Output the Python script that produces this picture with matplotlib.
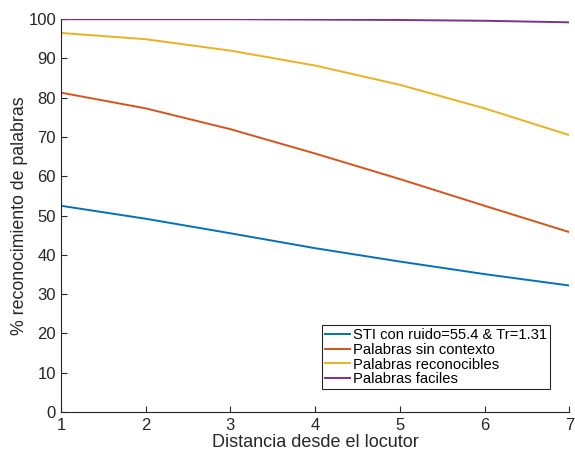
import matplotlib
matplotlib.use("Agg")
import matplotlib.pyplot as plt

plt.rcParams['font.family'] = ['Liberation Sans', 'DejaVu Sans']

distancia = [1, 2, 3, 4, 5, 6, 7]
sti = [52.5, 49.2, 45.5, 41.7, 38.3, 35.1, 32.2]
sin_contexto = [81.3, 77.3, 72.0, 65.8, 59.3, 52.5, 45.8]
reconocibles = [96.5, 94.9, 92.0, 88.2, 83.3, 77.3, 70.5]
faciles = [100.0, 100.0, 100.0, 99.9, 99.8, 99.6, 99.2]
labels = ['STI con ruido=55.4 & Tr=1.31', 'Palabras sin contexto',
          'Palabras reconocibles', 'Palabras faciles']
colors = ['#0072BD', '#D95319', '#EDB120', '#7E2F8E']

fig = plt.figure(figsize=(5.75, 4.57), dpi=100)
ax = fig.add_axes([0.106, 0.0985, 0.884, 0.8595])
for ys, lab, c in zip([sti, sin_contexto, reconocibles, faciles], labels, colors):
    ax.plot(distancia, ys, color=c, lw=1.4, label=lab)

ax.set_xlim(1, 7)
ax.set_ylim(0, 100)
ax.set_xticks(range(1, 8))
ax.set_yticks(range(0, 101, 10))
axc = '#262626'
for s in ['top', 'right']:
    ax.spines[s].set_visible(False)
for s in ['left', 'bottom']:
    ax.spines[s].set_color(axc)
    ax.spines[s].set_linewidth(0.8)
ax.tick_params(direction='in', length=4, colors=axc, labelsize=12, width=0.8)
ax.tick_params(axis='x', pad=4)
ax.set_xlabel('Distancia desde el locutor', fontsize=13, color=axc, labelpad=1)
ax.set_ylabel('% reconocimiento de palabras', fontsize=12.8, color=axc, labelpad=0)
leg = ax.legend(loc='lower right', bbox_to_anchor=(0.963, 0.058), fontsize=10.6,
                frameon=True, fancybox=False, edgecolor=axc, framealpha=1,
                handlelength=1.7, handletextpad=0.2, borderpad=0.2,
                labelspacing=0.05, borderaxespad=0)
leg.get_frame().set_linewidth(0.8)
fig.savefig('out.png', dpi=100)
